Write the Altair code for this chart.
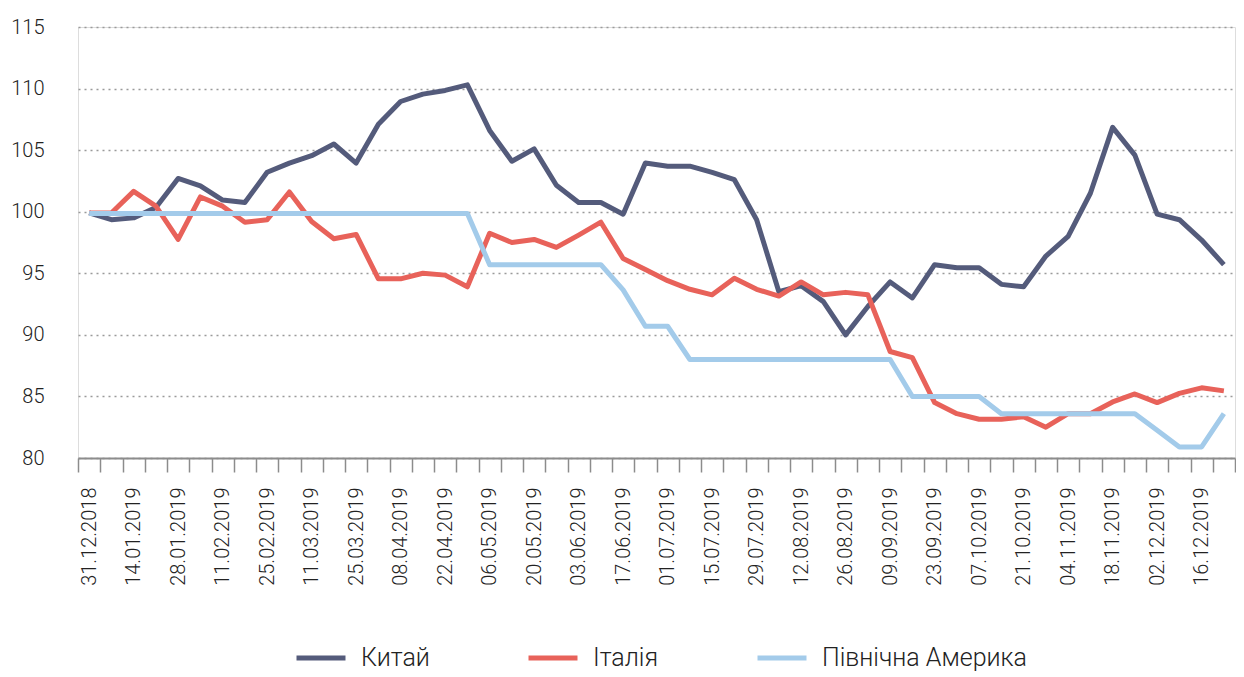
import altair as alt
import pandas as pd

# Weekly observation dates (categories) and the every-other-week labels shown on the axis
DATES = [d.strftime("%d.%m.%Y") for d in pd.date_range("2018-12-31", periods=52, freq="7D")]
LABELED = DATES[::2]

SERIES = ["Китай", "Італія", "Північна Америка"]
COLORS = ["#545b7b", "#e8625a", "#a3cbea"]

CHINA = [99.9, 99.35, 99.5, 100.35, 102.7, 102.1, 100.95, 100.75, 103.2, 103.95,
         104.55, 105.5, 103.95, 107.1, 108.95, 109.55, 109.85, 110.3, 106.6, 104.1,
         105.1, 102.15, 100.75, 100.75, 99.8, 103.95, 103.7, 103.7, 103.2, 102.6,
         99.35, 93.5, 94.0, 92.7, 90.0, 92.3, 94.3, 93.0, 95.7, 95.45,
         95.45, 94.1, 93.9, 96.4, 98.0, 101.5, 106.85, 104.6, 99.8, 99.35,
         97.7, 95.7]
ITALY = [99.9, 99.9, 101.65, 100.45, 97.75, 101.2, 100.45, 99.15, 99.35, 101.6,
         99.2, 97.8, 98.15, 94.55, 94.55, 95.0, 94.85, 93.9, 98.25, 97.5,
         97.75, 97.1, 98.1, 99.15, 96.2, 95.3, 94.4, 93.7, 93.25, 94.6,
         93.7, 93.15, 94.3, 93.25, 93.45, 93.25, 88.65, 88.15, 84.5, 83.6,
         83.15, 83.15, 83.35, 82.5, 83.6, 83.6, 84.55, 85.2, 84.5, 85.25,
         85.7, 85.45]
NAMERICA = [99.85, 99.85, 99.85, 99.85, 99.85, 99.85, 99.85, 99.85, 99.85, 99.85,
            99.85, 99.85, 99.85, 99.85, 99.85, 99.85, 99.85, 99.85, 95.7, 95.7,
            95.7, 95.7, 95.7, 95.7, 93.65, 90.7, 90.7, 88.0, 88.0, 88.0,
            88.0, 88.0, 88.0, 88.0, 88.0, 88.0, 88.0, 85.0, 85.0, 85.0,
            85.0, 83.6, 83.6, 83.6, 83.6, 83.6, 83.6, 83.6, 82.25, 80.9,
            80.9, 83.6]

Y_TICKS = [80, 85, 90, 95, 100, 105, 110, 115]

rows = []
for name, vals in zip(SERIES, [CHINA, ITALY, NAMERICA]):
    for d, v in zip(DATES, vals):
        rows.append({"date": d, "series": name, "value": v})
df = pd.DataFrame(rows)

label_expr = ("indexof([" + ",".join("'" + d + "'" for d in LABELED) +
              "], datum.value) >= 0 ? datum.value : ''")

FONT = "Roboto"

chart = alt.Chart(df).mark_line(strokeWidth=5, strokeJoin="round").encode(
    x=alt.X(
        "date:O",
        sort=DATES,
        bandPosition=0.5,
        scale=alt.Scale(type="band", paddingInner=0, paddingOuter=0),
        axis=alt.Axis(
            title=None,
            labelExpr=label_expr,
            labelAngle=270,
            labelAlign="right",
            labelBaseline="middle",
            labelOverlap=False,
            tickBand="extent",
            tickSize=14,
            tickWidth=1.5,
            tickColor="#8c8c8c",
            domainColor="#8c8c8c",
            domainWidth=2,
            labelPadding=15,
            labelFont=FONT,
            labelFontSize=20,
            labelFontWeight=300,
            labelColor="#222222",
            grid=False,
        ),
    ),
    y=alt.Y(
        "value:Q",
        scale=alt.Scale(domain=[80, 115], nice=False, zero=False),
        axis=alt.Axis(
            title=None,
            values=Y_TICKS,
            grid=True,
            gridDash=[2, 4],
            gridColor="#9a9a9a",
            gridWidth=1.5,
            domain=False,
            ticks=False,
            labelPadding=34,
            labelFont=FONT,
            labelFontSize=20,
            labelFontWeight=300,
            labelColor="#222222",
        ),
    ),
    color=alt.Color(
        "series:N",
        sort=SERIES,
        scale=alt.Scale(domain=SERIES, range=COLORS),
        legend=alt.Legend(
            title=None,
            orient="none",
            legendX=228,
            legendY=616,
            direction="horizontal",
            symbolType="M-2,0H2",
            symbolSize=600,
            symbolStrokeWidth=5,
            labelFont=FONT,
            labelFontSize=25,
            labelFontWeight=300,
            labelColor="#222222",
            labelOffset=25,
            columnPadding=88,
            labelLimit=400,
        ),
    ),
).properties(
    width=1157,
    height=431,
    padding={"left": 2, "top": 9, "right": 0, "bottom": 0},
).configure_view(stroke=None).configure(background="white")

chart.save("out.html", embed_options={"renderer": "svg", "actions": False})
